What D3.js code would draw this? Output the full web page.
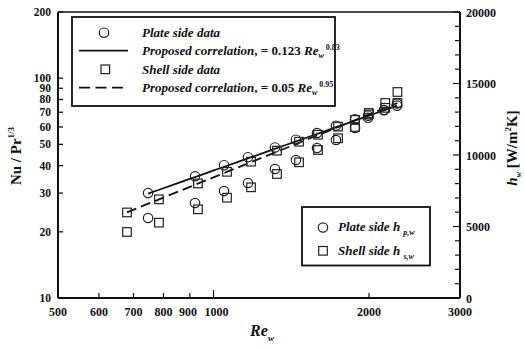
<!DOCTYPE html>
<html><head><meta charset="utf-8">
<script src="https://cdn.jsdelivr.net/npm/d3@7"></script>
<style>
html,body{margin:0;padding:0;background:#fff;}
text{font-family:"Liberation Serif","Times New Roman",serif;font-weight:bold;fill:#111;}
</style></head>
<body><svg id="c" width="525" height="349"></svg>
<script>
// ---- data ----
const plateRe = [747, 921, 1048, 1166, 1315, 1444, 1586, 1726, 1879, 1991, 2138, 2266];
const plateNu = [30.0, 35.8, 40.2, 43.7, 48.4, 52.5, 56.3, 60.8, 65.0, 67.5, 71.5, 75.0];
const plateH  = [5594, 6643, 7483, 8042, 9021, 9650, 10490, 11049, 11890, 12600, 13150, 13600];
const shellRe = [680, 784, 933, 1062, 1182, 1327, 1464, 1593, 1742, 1879, 1998, 2150, 2270];
const shellNu = [24.5, 28.1, 33.2, 37.5, 41.7, 46.8, 51.4, 55.3, 60.2, 64.6, 68.4, 73.3, 77.2];
const shellH  = [4615, 5266, 6203, 7014, 7741, 8671, 9490, 10350, 11168, 11958, 12937, 13636, 14406];
const xTicks = [500, 600, 700, 800, 900, 1000, 2000, 3000];
const yTicks = [10, 20, 30, 40, 50, 60, 70, 80, 90, 100, 200];
const hTicksMajor = [0, 5000, 10000, 15000, 20000];
const plateCoef = [0.123, 0.83];
const shellCoef = [0.05, 0.95];

const svg = d3.select("#c");
const L = 58, R = 460, T = 12, B = 298;
const x = d3.scaleLog().domain([500, 3000]).range([L, R]);
const y = d3.scaleLog().domain([10, 200]).range([B, T]);
const yh = d3.scaleLinear().domain([0, 20000]).range([B, T]);

// frame
const frame = svg.append("g").attr("stroke", "#111").attr("fill", "none");
frame.append("line").attr("x1", L).attr("x2", R).attr("y1", T).attr("y2", T).attr("stroke-width", 1.6);
frame.append("line").attr("x1", L).attr("x2", R).attr("y1", B).attr("y2", B).attr("stroke-width", 2);
frame.append("line").attr("x1", L).attr("x2", L).attr("y1", T).attr("y2", B).attr("stroke-width", 2);
frame.append("line").attr("x1", R).attr("x2", R).attr("y1", T).attr("y2", B).attr("stroke-width", 2);

// left axis ticks (inward)
yTicks.forEach(v => {
  svg.append("line").attr("x1", L).attr("x2", L + 5).attr("y1", y(v)).attr("y2", y(v)).attr("stroke", "#111").attr("stroke-width", 1.3);
  svg.append("text").attr("x", 51).attr("y", y(v) + 4).attr("text-anchor", "end").attr("font-size", 11.5).text(v);
});
// bottom ticks
xTicks.forEach(v => {
  const len = v === 1000 ? 8 : 5;
  svg.append("line").attr("x1", x(v)).attr("x2", x(v)).attr("y1", B).attr("y2", B - len).attr("stroke", "#111").attr("stroke-width", 1.2);
  svg.append("text").attr("x", x(v) + (v===900?-2:(v===1000?3:0))).attr("y", 316).attr("text-anchor", "middle").attr("font-size", 12).text(v);
});
// right axis ticks
d3.range(0, 20001, 1000).forEach(v => {
  const len = v % 5000 === 0 ? 7 : 5;
  svg.append("line").attr("x1", R).attr("x2", R - len).attr("y1", yh(v)).attr("y2", yh(v)).attr("stroke", "#111").attr("stroke-width", 1.2);
});
hTicksMajor.forEach(v => {
  svg.append("text").attr("x", 466).attr("y", yh(v) + 4.5).attr("text-anchor", "start").attr("font-size", 12).text(v);
});

// correlation lines
function corrLine(coef, re0, re1) {
  const pts = d3.range(0, 21).map(i => { const re = re0 * Math.pow(re1 / re0, i / 20); return [re, coef[0] * Math.pow(re, coef[1])]; });
  return d3.line().x(d => x(d[0])).y(d => y(d[1]))(pts);
}
svg.append("path").attr("d", corrLine(plateCoef, plateRe[0], plateRe[plateRe.length - 1]))
  .attr("fill", "none").attr("stroke", "#111").attr("stroke-width", 1.8);
svg.append("path").attr("d", corrLine(shellCoef, shellRe[0], shellRe[shellRe.length - 1]))
  .attr("fill", "none").attr("stroke", "#111").attr("stroke-width", 1.8).attr("stroke-dasharray", "10,5");

// markers
const mk = svg.append("g").attr("fill", "none").attr("stroke", "#222").attr("stroke-width", 1.2);
function circles(re, vals, sc) {
  re.forEach((r, i) => mk.append("circle").attr("cx", x(r)).attr("cy", sc(vals[i])).attr("r", 4.7));
}
function squares(re, vals, sc) {
  re.forEach((r, i) => mk.append("rect").attr("x", x(r) - 4.3).attr("y", sc(vals[i]) - 4.3).attr("width", 8.6).attr("height", 8.6));
}
circles(plateRe, plateH, yh);
squares(shellRe, shellH, yh);
circles(plateRe, plateNu, y);
squares(shellRe, shellNu, y);

// legend 1
const lg = svg.append("g");
lg.append("rect").attr("x", 72).attr("y", 17).attr("width", 263).attr("height", 89).attr("fill", "#fff").attr("stroke", "#111").attr("stroke-width", 1.8);
lg.append("circle").attr("cx", 104).attr("cy", 32.7).attr("r", 4.7).attr("fill", "none").attr("stroke", "#222").attr("stroke-width", 1.2);
lg.append("line").attr("x1", 79).attr("x2", 128).attr("y1", 50.7).attr("y2", 50.7).attr("stroke", "#111").attr("stroke-width", 1.8);
lg.append("rect").attr("x", 101).attr("y", 65).attr("width", 8.6).attr("height", 8.6).attr("fill", "none").attr("stroke", "#222").attr("stroke-width", 1.2);
lg.append("line").attr("x1", 79).attr("x2", 128).attr("y1", 87.7).attr("y2", 87.7).attr("stroke", "#111").attr("stroke-width", 1.8).attr("stroke-dasharray", "11,5.5");
function lgText(yy, parts) {
  const t = lg.append("text").attr("x", 142).attr("y", yy).attr("font-size", 13);
  parts.forEach(p => {
    const s = t.append("tspan").text(p.t);
    if (p.i) s.attr("font-style", "italic");
    if (p.dy) s.attr("dy", p.dy);
    if (p.fs) s.attr("font-size", p.fs);
  });
}
lgText(37, [{t: "Plate side data", i: 1}]);
lgText(55, [{t: "Proposed correlation", i: 1}, {t: ", = 0.123 "}, {t: "Re", i: 1}, {t: "w", i: 1, fs: 8, dy: 3}, {t: " 0.83", fs: 8, dy: -8}]);
lgText(74, [{t: "Shell side data", i: 1}]);
lgText(92, [{t: "Proposed correlation", i: 1}, {t: ", = 0.05 "}, {t: "Re", i: 1}, {t: "w", i: 1, fs: 8, dy: 3}, {t: " 0.95", fs: 8, dy: -8}]);

// legend 2
const lg2 = svg.append("g");
lg2.append("rect").attr("x", 302).attr("y", 207).attr("width", 128).attr("height", 58.5).attr("fill", "#fff").attr("stroke", "#111").attr("stroke-width", 1.8);
lg2.append("circle").attr("cx", 323).attr("cy", 227.5).attr("r", 4.7).attr("fill", "none").attr("stroke", "#222").attr("stroke-width", 1.2);
lg2.append("rect").attr("x", 318.7).attr("y", 246.5).attr("width", 8.6).attr("height", 8.6).attr("fill", "none").attr("stroke", "#222").attr("stroke-width", 1.2);
function lg2Text(yy, main, sub) {
  const t = lg2.append("text").attr("x", 338).attr("y", yy).attr("font-size", 13).attr("font-style", "italic");
  t.append("tspan").text(main);
  t.append("tspan").attr("font-size", 8).attr("dy", 4).text(sub);
}
lg2Text(231, "Plate side h ", "p,w");
lg2Text(255, "Shell side h ", "s,w");

// axis titles
const lt = svg.append("text").attr("transform", "translate(21,156) rotate(-90)").attr("text-anchor", "middle").attr("font-size", 15);
lt.append("tspan").text("Nu / Pr");
lt.append("tspan").attr("font-size", 9).attr("dy", -7).text("1/3");

const rt = svg.append("text").attr("transform", "translate(517,148) rotate(-90)").attr("text-anchor", "middle").attr("font-size", 15);
rt.append("tspan").attr("font-style", "italic").text("h");
rt.append("tspan").attr("font-size", 8).attr("dy", 4).attr("font-style", "italic").text("w");
rt.append("tspan").attr("dy", -4).text(" [W/m");
rt.append("tspan").attr("font-size", 9).attr("dy", -6).text("2");
rt.append("tspan").attr("dy", 6).text("K]");

const bt = svg.append("text").attr("x", 262).attr("y", 336).attr("text-anchor", "middle").attr("font-size", 16).attr("font-style", "italic");
bt.append("tspan").text("Re");
bt.append("tspan").attr("font-size", 9).attr("dy", 5).text("w");
</script></body></html>
